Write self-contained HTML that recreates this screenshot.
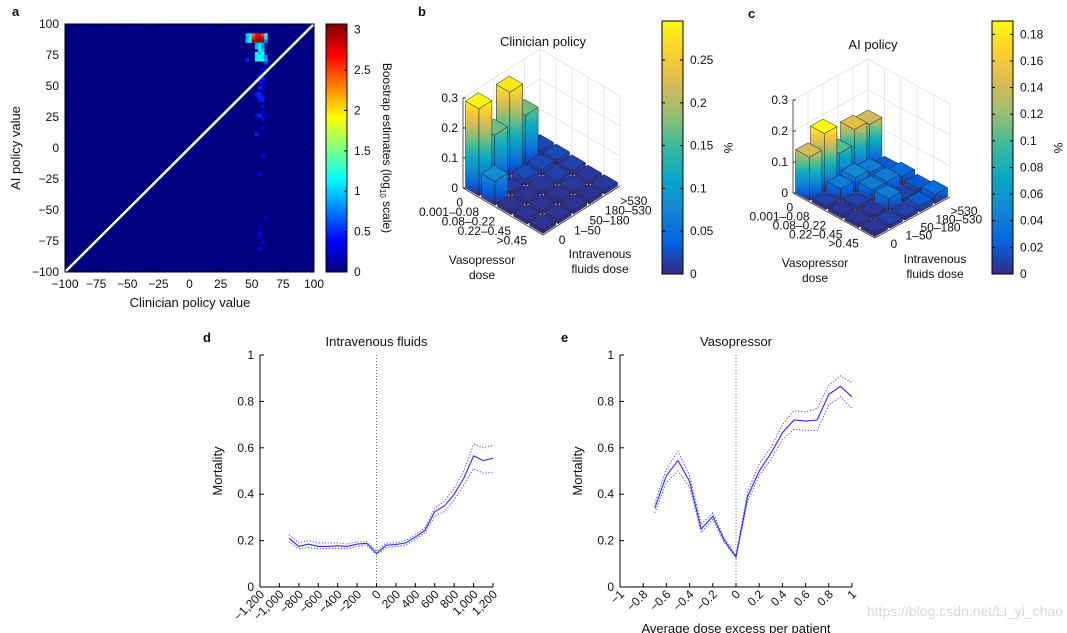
<!DOCTYPE html>
<html><head><meta charset="utf-8"><style>
html,body{margin:0;padding:0;background:#fff;}
svg{display:block;font-family:"Liberation Sans",Arial,sans-serif;}
</style></head><body>
<svg id="fig" width="1067" height="633" viewBox="0 0 1067 633" xmlns="http://www.w3.org/2000/svg">
<defs id="defs"></defs>
</svg>
<script>
// ===== Panel a data =====
const heatX = [45,47.5,50,52.5,55,57.5,60, 45,47.5,50,52.5,55,57.5,60, 45,47.5,50,52.5,55,57.5,60, 52.5,55,57.5, 52.5,55,57.5, 55,57.5, 52.5,55,57.5, 52.5,55,57.5,60, 45,52.5,55,57.5,60, 60, 57.5, 55, 55,57.5, 55,57.5, 55,57.5, 52.5,55, 52.5,55,57.5, 55,57.5, 57.5, 57.5, 52.5,55, 57.5, 57.5, 52.5, 57.5, 55, 60, 55, 55, 57.5, 55];
const heatY = [90,90,90,90,90,90,90, 87.5,87.5,87.5,87.5,87.5,87.5,87.5, 85,85,85,85,85,85,85, 82.5,82.5,82.5, 80,80,80, 77.5,77.5, 75,75,75, 72.5,72.5,72.5,72.5, 70,70,70,70,70, 67.5, 62.5, 57.5, 55,55, 52.5,52.5, 47.5,47.5, 42.5,42.5, 40,40,40, 37.5,37.5, 32.5, 27.5, 25,25, 22.5, 15, 10, -7.5, -22.5, -57.5, -70, -72.5, -77.5, -82.5];
const heatV = [1.0,1.1,2.4,2.7,2.8,2.5,1.2, 0.9,1.3,2.6,2.9,3.0,2.8,1.1, 1.0,1.2,3.0,3.05,3.05,3.0,0.8, 0.9,1.1,0.9, 1.0,1.2,0.8, 1.1,1.0, 1.2,1.0,1.2, 1.1,1.3,1.1,0.8, 0.5,1.2,1.2,1.2,0.9, 0.6, 0.4, 0.45, 0.5,0.5, 0.45,0.4, 0.5,0.4, 0.45,0.5, 0.4,0.5,0.45, 0.45,0.5, 0.4, 0.35, 0.4,0.5, 0.4, 0.35, 0.5, 0.35, 0.35, 0.3, 0.35, 0.3, 0.3, 0.35];
const aTicks = [-100,-75,-50,-25,0,25,50,75,100];
const aTickLabels = ["\u2212100","\u221275","\u221250","\u221225","0","25","50","75","100"];
const aCbTicks = [0,0.5,1,1.5,2,2.5,3];
const aCbLabels = ["0","0.5","1","1.5","2","2.5","3"];
// ===== Panel b / c data (rows: vasopressor bins, cols: fluid bins) =====
const vasoLabels = ["0","0.001\u20130.08","0.08\u20130.22","0.22\u20130.45",">0.45"];
const fluidLabels = ["0","1\u201350","50\u2013180","180\u2013530",">530"];
const clinV0 = [0.29,0.17,0.28,0.17,0.02];
const clinV1 = [0.08,0.01,0.02,0.02,0.02];
const clinV2 = [0.005,0.005,0.01,0.015,0.015];
const clinV3 = [0.005,0.005,0.005,0.01,0.01];
const clinV4 = [0.005,0.005,0.005,0.005,0.01];
const aiV0 = [0.14,0.19,0.10,0.15,0.14];
const aiV1 = [0.01,0.04,0.05,0.04,0.02];
const aiV2 = [0.005,0.01,0.04,0.04,0.03];
const aiV3 = [0.005,0.005,0.04,0.01,0.02];
const aiV4 = [0.005,0.01,0.01,0.02,0.03];
const zTicks = [0,0.1,0.2,0.3];
const zTickLabels = ["0","0.1","0.2","0.3"];
const bCbTicks = [0,0.05,0.1,0.15,0.2,0.25];
const bCbLabels = ["0","0.05","0.1","0.15","0.2","0.25"];
const cCbTicks = [0,0.02,0.04,0.06,0.08,0.1,0.12,0.14,0.16,0.18];
const cCbLabels = ["0","0.02","0.04","0.06","0.08","0.1","0.12","0.14","0.16","0.18"];
// ===== Panel d data =====
const fluidX = [-900,-800,-700,-600,-500,-400,-300,-200,-100,0,100,200,300,400,500,600,700,800,900,1000,1100,1200];
const fluidMean = [0.21,0.175,0.185,0.175,0.175,0.178,0.175,0.185,0.188,0.145,0.18,0.183,0.19,0.215,0.245,0.325,0.35,0.4,0.47,0.565,0.545,0.555];
const fluidUpper = [0.225,0.19,0.2,0.19,0.19,0.19,0.185,0.195,0.195,0.155,0.19,0.19,0.2,0.225,0.255,0.34,0.37,0.425,0.5,0.615,0.6,0.61];
const fluidLower = [0.195,0.165,0.17,0.165,0.165,0.165,0.165,0.175,0.18,0.14,0.17,0.175,0.18,0.205,0.235,0.305,0.325,0.375,0.44,0.51,0.49,0.495];
const dXTicks = [-1200,-1000,-800,-600,-400,-200,0,200,400,600,800,1000,1200];
const dXLabels = ["\u22121,200","\u22121,000","\u2212800","\u2212600","\u2212400","\u2212200","0","200","400","600","800","1,000","1,200"];
// ===== Panel e data =====
const vasoX = [-0.7,-0.6,-0.5,-0.4,-0.3,-0.2,-0.1,0,0.1,0.2,0.3,0.4,0.5,0.6,0.7,0.8,0.9,1.0];
const vasoMean = [0.34,0.48,0.545,0.455,0.25,0.305,0.2,0.13,0.39,0.5,0.575,0.665,0.72,0.715,0.72,0.83,0.865,0.82];
const vasoUpper = [0.36,0.51,0.585,0.48,0.27,0.32,0.21,0.135,0.41,0.53,0.6,0.7,0.76,0.755,0.77,0.87,0.91,0.88];
const vasoLower = [0.32,0.45,0.5,0.43,0.235,0.29,0.19,0.125,0.37,0.48,0.55,0.635,0.68,0.675,0.675,0.785,0.82,0.77];
const eXTicks = [-1,-0.8,-0.6,-0.4,-0.2,0,0.2,0.4,0.6,0.8,1];
const eXLabels = ["\u22121","\u22120.8","\u22120.6","\u22120.4","\u22120.2","0","0.2","0.4","0.6","0.8","1"];
const mortTicks = [0,0.2,0.4,0.6,0.8,1];
const mortLabels = ["0","0.2","0.4","0.6","0.8","1"];

const NS = "http://www.w3.org/2000/svg";
const svg = document.getElementById('fig');
const defs = document.getElementById('defs');
function mk(tag, attrs, parent){ const e=document.createElementNS(NS,tag); for(const k in attrs) e.setAttribute(k,attrs[k]); (parent||svg).appendChild(e); return e; }
function txt(x,y,s,size,anchor,parent,extra){ const t=mk('text',Object.assign({x:x,y:y,'font-size':size,'text-anchor':anchor||'start',fill:'#111'},extra||{}),parent); t.textContent=s; return t; }
function clamp(v){return Math.max(0,Math.min(1,v));}
function jet(t){ const r=clamp(1.5-Math.abs(4*t-3)), g=clamp(1.5-Math.abs(4*t-2)), b=clamp(1.5-Math.abs(4*t-1)); return 'rgb('+Math.round(r*255)+','+Math.round(g*255)+','+Math.round(b*255)+')'; }
const PAR=[[53,42,135],[3,99,225],[20,133,212],[6,167,198],[56,185,158],[146,191,115],[217,186,86],[252,206,46],[249,251,14]];
function parula(t){ t=clamp(t)*(PAR.length-1); const i=Math.min(PAR.length-2,Math.floor(t)), f=t-i; const c=PAR[i].map((v,k)=>Math.round(v+(PAR[i+1][k]-v)*f)); return 'rgb('+c.join(',')+')'; }
let gid=0;
function vgrad(fn, y1, y2, tmax){ const id='g'+(gid++); const g=mk('linearGradient',{id:id,gradientUnits:'userSpaceOnUse',x1:0,y1:y1,x2:0,y2:y2},defs); for(let k=0;k<=8;k++){ mk('stop',{offset:k/8,'stop-color':fn(tmax*k/8)},g);} return 'url(#'+id+')'; }

// panel letters
[["a",12,16],["b",418,16],["c",748,18],["d",203,342],["e",561,342]].forEach(p=>{
  const t=txt(p[1],p[2],p[0],13,'start',svg,{'font-weight':'bold'});
  
  
});

// ===== Panel a =====
(function(){
  const g=mk('g',{});
  
  
  const X0=65,X1=314,Y0=24,Y1=272;
  const sx=v=>X0+(v+100)*(X1-X0)/200, sy=v=>Y1-(v+100)*(Y1-Y0)/200;
  const bg=mk('rect',{x:X0,y:Y0,width:X1-X0,height:Y1-Y0,fill:jet(0)},g);
  
  
  const cs=2.5, vmax=3.1;
  for(let i=0;i<heatX.length;i++){
    const r=mk('rect',{x:sx(heatX[i]),y:sy(heatY[i]+cs),width:sx(heatX[i]+cs)-sx(heatX[i])+0.3,height:sy(heatY[i])-sy(heatY[i]+cs)+0.3,fill:jet(heatV[i]/vmax)},g);
    
    
  }
  const dl=mk('line',{x1:sx(-100),y1:sy(-100),x2:sx(100),y2:sy(100),stroke:'#fff','stroke-width':2.5},g);
  
  
  const fr=mk('rect',{x:X0,y:Y0,width:X1-X0,height:Y1-Y0,fill:'none',stroke:'#000','stroke-width':1},g);
  
  
  aTicks.forEach((v,i)=>{
    mk('line',{x1:sx(v),y1:Y1,x2:sx(v),y2:Y1-3,stroke:'#000'},g);
    mk('line',{x1:sx(v),y1:Y0,x2:sx(v),y2:Y0+3,stroke:'#000'},g);
    mk('line',{x1:X0,y1:sy(v),x2:X0+3,y2:sy(v),stroke:'#000'},g);
    mk('line',{x1:X1,y1:sy(v),x2:X1-3,y2:sy(v),stroke:'#000'},g);
    const tx=txt(sx(v),288,aTickLabels[i],12,'middle',g);
    
    
    const ty=txt(59,sy(v)+4,aTickLabels[i],12,'end',g);
    
    
  });
  const xt=txt(190,307,'Clinician policy value',13,'middle',g);
  
  
  const yt=txt(0,0,'AI policy value',13,'middle',g,{transform:'translate(20,148) rotate(-90)'});
  
  
  // colorbar
  const CX=326,CW=21,CT=24,CB=272,cmax=3.07;
  const cb=mk('rect',{x:CX,y:CT,width:CW,height:CB-CT,fill:vgrad(t=>jet(t/cmax),CB,CT,cmax),stroke:'#000'},g);
  
  
  aCbTicks.forEach((v,i)=>{
    const y=CB-v/cmax*(CB-CT);
    mk('line',{x1:CX+CW,y1:y,x2:CX+CW-3,y2:y,stroke:'#000'},g);
    const t=txt(CX+CW+7,y+4,aCbLabels[i],12,'start',g);
    
    
  });
  const ct=mk('text',{x:0,y:0,'font-size':12,'text-anchor':'middle',fill:'#111',transform:'translate(383,148) rotate(90)'},g);
  ct.innerHTML='Boostrap estimates (log<tspan font-size="8" dy="3">10</tspan><tspan dy="-3"> scale)</tspan>';
  
  
})();

// ===== 3D bar panels =====
function bar3d(name, cfg, rows, max, cbCfg){
  const g=mk('g',{});
  
  
  const P=(i,j,z)=>[cfg.Lx+i*cfg.V[0]+j*cfg.F[0], cfg.Ly+i*cfg.V[1]+j*cfg.F[1]-z*cfg.zs];
  const pts=a=>a.map(p=>p[0].toFixed(1)+','+p[1].toFixed(1)).join(' ');
  for(let j=0;j<=5;j++){ const a=P(0,j,0),b=P(0,j,0.3); mk('line',{x1:a[0],y1:a[1],x2:b[0],y2:b[1],stroke:'#e2e2e2','stroke-width':0.8},g); }
  for(let i=0;i<=5;i++){ const a=P(i,5,0),b=P(i,5,0.3); mk('line',{x1:a[0],y1:a[1],x2:b[0],y2:b[1],stroke:'#e2e2e2','stroke-width':0.8},g); }
  zTicks.forEach(z=>{ if(z===0) return; const a=P(0,0,z),b=P(0,5,z),c=P(5,5,z); mk('polyline',{points:pts([a,b,c]),fill:'none',stroke:'#e2e2e2','stroke-width':0.8},g); });
  const za=P(0,0,0), zb=P(0,0,0.3);
  mk('line',{x1:za[0],y1:za[1],x2:zb[0],y2:zb[1],stroke:'#333','stroke-width':0.8},g);
  zTicks.forEach((z,k)=>{ const p=P(0,0,z); mk('line',{x1:p[0],y1:p[1],x2:p[0]+3,y2:p[1],stroke:'#333'},g);
    const t=txt(p[0]-5,p[1]+4,zTickLabels[k],12,'end',g);
    
     });
  const f1=P(0,0,0),f2=P(5,0,0),f3=P(5,5,0);
  mk('polyline',{points:pts([f1,f2,f3]),fill:'none',stroke:'#333','stroke-width':0.8},g);
  const cells=[];
  for(let i=0;i<5;i++) for(let j=0;j<5;j++) cells.push([i,j,rows[i][j]]);
  cells.sort((a,b)=>(a[0]-a[1])-(b[0]-b[1]) || (a[0]-b[0]));
  const gp=0.08;
  cells.forEach(c=>{
    const i0=c[0]+gp,i1=c[0]+1-gp,j0=c[1]+gp,j1=c[1]+1-gp,h=Math.max(c[2],0.012);
    const top=P(i0,j0,h)[1], bot=P(i1,j0,0)[1];
    const fill=vgrad(t=>parula(t/max),bot,top,c[2]);
    const bg=mk('g',{},g);
    
    
    mk('polygon',{points:pts([P(i0,j0,0),P(i1,j0,0),P(i1,j0,h),P(i0,j0,h)]),fill:fill,stroke:'#222','stroke-width':0.5},bg);
    mk('polygon',{points:pts([P(i1,j0,0),P(i1,j1,0),P(i1,j1,h),P(i1,j0,h)]),fill:fill,stroke:'#222','stroke-width':0.5},bg);
    mk('polygon',{points:pts([P(i0,j0,h),P(i1,j0,h),P(i1,j1,h),P(i0,j1,h)]),fill:parula(c[2]/max),stroke:'#222','stroke-width':0.5},bg);
  });
  vasoLabels.forEach((s,i)=>{ const p=P(i+0.5,0,0); const t=txt(p[0]-8,p[1]+14,s,12,'end',g);
    
     });
  fluidLabels.forEach((s,j)=>{ const p=P(5,j+0.5,0); const t=txt(p[0]+8,p[1]+14,s,12,'start',g);
    
     });
  const t1=txt(cfg.vl[0],cfg.vl[1],'Vasopressor',12,'middle',g); txt(cfg.vl[0],cfg.vl[1]+15,'dose',12,'middle',g);
  
  
  const t2=txt(cfg.fl[0],cfg.fl[1],'Intravenous',12,'middle',g); txt(cfg.fl[0],cfg.fl[1]+15,'fluids dose',12,'middle',g);
  
  
  const tt=txt(cfg.title[0],cfg.title[1],cfg.title[2],13,'middle',g);
  
  
  const CX=cbCfg.x,CW=21,CT=21,CB=274,cmax=cbCfg.max;
  const cb=mk('rect',{x:CX,y:CT,width:CW,height:CB-CT,fill:vgrad(t=>parula(t/cmax),CB,CT,cmax),stroke:'#000'},g);
  
  
  cbCfg.ticks.forEach((v,i)=>{ const y=CB-v/cmax*(CB-CT);
    mk('line',{x1:CX+CW,y1:y,x2:CX+CW-3,y2:y,stroke:'#000'},g);
    mk('line',{x1:CX,y1:y,x2:CX+3,y2:y,stroke:'#000'},g);
    const t=txt(CX+CW+7,y+4,cbCfg.labels[i],12,'start',g);
    
     });
  const pc=txt(0,0,'%',12,'middle',g,{transform:'translate('+(cbCfg.x+62)+',148) rotate(90)'});
  
  
}
bar3d('panel-b-clinician-policy',{Lx:463,Ly:188,V:[16,9.4],F:[15.4,-9.8],zs:300,vl:[482,264],fl:[600,258],title:[543,46,'Clinician policy']},[clinV0,clinV1,clinV2,clinV3,clinV4],0.2956,{x:662,max:0.2956,ticks:bCbTicks,labels:bCbLabels});
bar3d('panel-c-ai-policy',{Lx:793,Ly:193,V:[16.4,9],F:[15,-8.2],zs:310,vl:[815,267],fl:[935,263],title:[873,49,'AI policy']},[aiV0,aiV1,aiV2,aiV3,aiV4],0.19,{x:992,max:0.19,ticks:cCbTicks,labels:cCbLabels});

// ===== line panels =====
function linePanel(name, X0, X1, xmin, xmax, xs, mean, up, lo, xticks, xlabels, title, xtitle){
  const g=mk('g',{});
  
  
  const Y0=355,Y1=587;
  const sx=v=>X0+(v-xmin)/(xmax-xmin)*(X1-X0), sy=v=>Y1-v*(Y1-Y0);
  mk('line',{x1:X0,y1:Y0,x2:X0,y2:Y1,stroke:'#000'},g);
  mk('line',{x1:X0,y1:Y1,x2:X1,y2:Y1,stroke:'#000'},g);
  const zl=mk('line',{x1:sx(0),y1:Y0,x2:sx(0),y2:Y1,stroke:'#777','stroke-dasharray':'1,2'},g);
  
  
  mortTicks.forEach((v,i)=>{ mk('line',{x1:X0,y1:sy(v),x2:X0+4,y2:sy(v),stroke:'#000'},g);
    const t=txt(X0-6,sy(v)+4,mortLabels[i],12,'end',g);
    
     });
  xticks.forEach((v,i)=>{ mk('line',{x1:sx(v),y1:Y1,x2:sx(v),y2:Y1-4,stroke:'#000'},g);
    const t=txt(0,0,xlabels[i],12,'end',g,{transform:'translate('+(sx(v)+5)+','+(Y1+8)+') rotate(-45)'});
    
     });
  const path=arr=>xs.map((x,i)=>(i?'L':'M')+sx(x).toFixed(1)+','+sy(arr[i]).toFixed(1)).join('');
  const u=mk('path',{d:path(up),fill:'none',stroke:'#5555ff','stroke-width':1.1,'stroke-dasharray':'1.2,1.8'},g);
  
  
  const l=mk('path',{d:path(lo),fill:'none',stroke:'#5555ff','stroke-width':1.1,'stroke-dasharray':'1.2,1.8'},g);
  
  
  const m=mk('path',{d:path(mean),fill:'none',stroke:'#2a2aff','stroke-width':1.1},g);
  
  
  const tt=txt(sx(0),346,title,13,'middle',g);
  
  
  const yt=txt(0,0,'Mortality',13,'middle',g,{transform:'translate('+(X0-38)+',471) rotate(-90)'});
  
  
  if(xtitle){ const xt=txt(sx(0),633,xtitle,13,'middle',g);
    
     }
}
linePanel('panel-d-intravenous-fluids',260,493,-1200,1200,fluidX,fluidMean,fluidUpper,fluidLower,dXTicks,dXLabels,'Intravenous fluids',null);
linePanel('panel-e-vasopressor',620,852,-1,1,vasoX,vasoMean,vasoUpper,vasoLower,eXTicks,eXLabels,'Vasopressor','Average dose excess per patient');
const wm=txt(1063,616,'https://blog.csdn.net/Li_yi_chao',14,'end',svg,{fill:'#d8d8d8'});


</script>
</body></html>
